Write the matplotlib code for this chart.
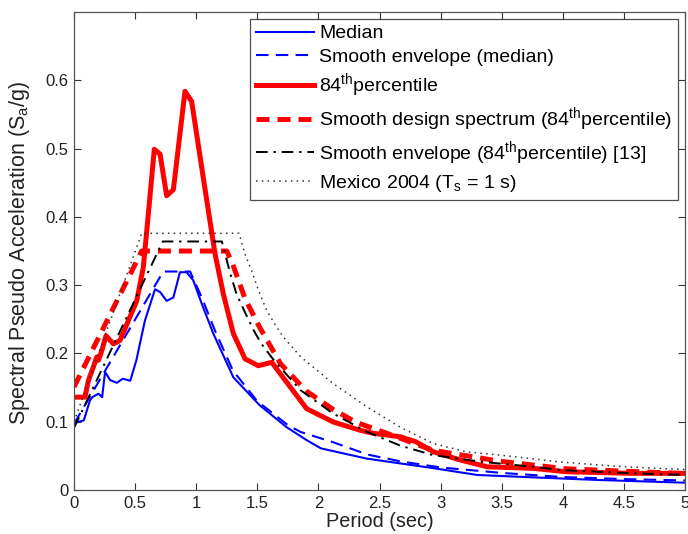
import matplotlib
matplotlib.use("Agg")
import matplotlib.pyplot as plt

plt.rcParams['font.family'] = ['Liberation Sans', 'DejaVu Sans']
plt.rcParams['mathtext.fontset'] = 'custom'
plt.rcParams['mathtext.rm'] = 'Liberation Sans'
plt.rcParams['mathtext.it'] = 'Liberation Sans'

# Median
med_T = [0.0, 0.08, 0.13, 0.15, 0.2, 0.23, 0.254, 0.295, 0.35, 0.4, 0.46, 0.51, 0.58, 0.663, 0.704,
         0.758, 0.813, 0.867, 0.922, 0.976, 1.045, 1.14, 1.304, 1.52, 1.74, 1.904, 2.02, 2.395,
         2.94, 3.30, 3.76, 4.3, 5.0]
med_S = [0.098, 0.102, 0.131, 0.136, 0.141, 0.136, 0.173, 0.161, 0.157, 0.163, 0.160, 0.19, 0.248, 0.294, 0.290,
         0.277, 0.282, 0.319, 0.319, 0.307, 0.273, 0.229, 0.165, 0.124, 0.092, 0.073, 0.061, 0.046,
         0.032, 0.022, 0.0185, 0.0146, 0.0107]

# Smooth envelope (median)
env_T = [0.0, 0.73, 0.95, 1.05, 1.15, 1.3, 1.5, 1.75, 1.855, 2.12, 2.4, 2.67, 3.0, 3.5, 4.0, 4.5, 5.0]
env_S = [0.097, 0.32, 0.32, 0.28, 0.235, 0.175, 0.13, 0.095, 0.085, 0.07, 0.052, 0.042, 0.033, 0.025, 0.019, 0.016, 0.014]

# 84th percentile
p84_T = [0.0, 0.09, 0.117, 0.158, 0.186, 0.2, 0.227, 0.262, 0.322, 0.376, 0.513, 0.567, 0.608, 0.657, 0.704,
         0.758, 0.813, 0.908, 0.963, 1.058, 1.154, 1.222, 1.304, 1.40, 1.508, 1.618, 1.727, 1.904, 2.12,
         2.34, 2.45, 2.67, 2.80, 2.94, 3.16, 3.38, 3.76, 4.03, 4.57, 5.0]
p84_S = [0.136, 0.136, 0.16, 0.18, 0.195, 0.19, 0.204, 0.226, 0.214, 0.219, 0.277, 0.326, 0.404, 0.499, 0.492,
         0.431, 0.44, 0.584, 0.569, 0.457, 0.346, 0.287, 0.229, 0.192, 0.182, 0.187, 0.161, 0.119, 0.0997,
         0.0876, 0.083, 0.078, 0.0705, 0.056, 0.044, 0.034, 0.0317, 0.0267, 0.0244, 0.0244]

# Smooth design spectrum (84th percentile)
des_T = [0.0, 0.554, 1.25, 1.3, 1.4, 1.52, 1.69, 1.9, 2.12, 2.31, 2.53, 2.94, 3.49, 4.03, 4.58, 5.0]
des_S = [0.151, 0.35, 0.35, 0.33, 0.28, 0.238, 0.185, 0.145, 0.118, 0.099, 0.085, 0.058, 0.042, 0.031, 0.027, 0.024]

# Smooth envelope (84th percentile) [13]
ref_T = [0.0, 0.726, 1.21, 1.28, 1.33, 1.40, 1.47, 1.53, 1.64, 1.855, 2.12, 2.4, 2.67, 2.94, 3.35, 3.76, 4.0, 4.5, 5.0]
ref_S = [0.091, 0.364, 0.364, 0.316, 0.287, 0.26, 0.234, 0.215, 0.189, 0.146, 0.112, 0.085, 0.065, 0.051, 0.041, 0.034, 0.029, 0.025, 0.022]

# Mexico 2004 (Ts = 1 s)
mex_T = [0.0, 0.554, 1.35, 1.40, 1.454, 1.51, 1.577, 1.66, 1.713, 1.855, 2.12, 2.395, 2.67, 2.94, 3.21, 3.49, 3.98, 4.5, 5.0]
mex_S = [0.10, 0.376, 0.376, 0.345, 0.321, 0.292, 0.263, 0.238, 0.224, 0.195, 0.156, 0.122, 0.092, 0.068, 0.056, 0.051, 0.041, 0.034, 0.030]

x_ticks = [0, 0.5, 1, 1.5, 2, 2.5, 3, 3.5, 4, 4.5, 5]
x_ticklabels = ['0', '0.5', '1', '1.5', '2', '2.5', '3', '3.5', '4', '4.5', '5']
y_ticks = [0, 0.1, 0.2, 0.3, 0.4, 0.5, 0.6]
y_ticklabels = ['0', '0.1', '0.2', '0.3', '0.4', '0.5', '0.6']

fig = plt.figure(figsize=(6.88, 5.34), dpi=100)
ax = fig.add_axes([0.1076, 0.0824, 0.888, 0.895])

ax.plot(med_T, med_S, color='#0000ff', lw=1.5, label='Median')
ax.plot(env_T, env_S, color='#0000ff', lw=1.5, dashes=(6, 3.5), label='Smooth envelope (median)')
ax.plot(p84_T, p84_S, color='#ff0000', lw=3.6, label='84$^{\\rm th}$percentile')
ax.plot(des_T, des_S, color='#ff0000', lw=3.6, dashes=(2.6, 1.6), label='Smooth design spectrum (84$^{\\rm th}$percentile)')
ax.plot(ref_T, ref_S, color='black', lw=1.4, dashes=(6, 3, 1.2, 3), label='Smooth envelope (84$^{\\rm th}$percentile) [13]')
ax.plot(mex_T, mex_S, color='#333333', lw=1.1, dashes=(1, 2.8), label='Mexico 2004 (T$_{\\rm s}$ = 1 s)')

ax.set_xlim(0, 5)
ax.set_ylim(0, 0.7)
ax.set_xticks(x_ticks)
ax.set_xticklabels(x_ticklabels)
ax.set_yticks(y_ticks)
ax.set_yticklabels(y_ticklabels)
ax.tick_params(direction='in', top=True, right=True, length=5, width=0.8,
               labelsize=12, colors='#333333', labelcolor='#222222', pad=4)
for s in ax.spines.values():
    s.set_color('#555555')
    s.set_linewidth(0.9)

ax.set_xlabel('Period (sec)', fontsize=14.3, color='#222222', labelpad=1)
ax.set_ylabel('Spectral Pseudo Acceleration (S$_{\\rm a}$/g)', fontsize=15.5, color='#222222')
ax.yaxis.set_label_coords(-0.068, 0.497)

leg = ax.legend(loc='upper right', fontsize=14, frameon=True, fancybox=False,
                edgecolor='#222222', handlelength=3.0, handletextpad=0.25,
                borderaxespad=0.35, labelspacing=0.3, borderpad=0.3)
leg.get_frame().set_linewidth(0.9)

fig.savefig('out.png', dpi=100)
